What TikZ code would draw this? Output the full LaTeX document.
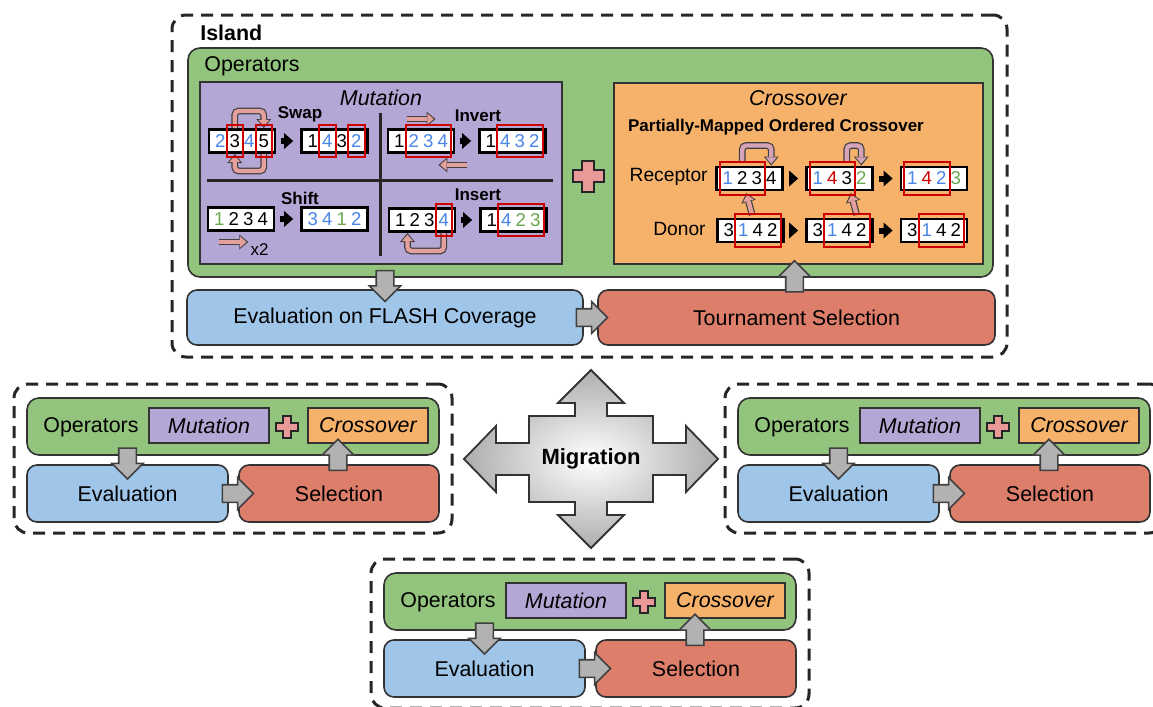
\documentclass[tikz,border=0pt]{standalone}
\usepackage{fontspec}
\setmainfont{Liberation Sans}
\usetikzlibrary{positioning,calc,fit,shapes.arrows,arrows.meta}

\definecolor{opgreen}{HTML}{93C47D}
\definecolor{mutpurple}{HTML}{B4A7D6}
\definecolor{crossorange}{HTML}{F6B26B}
\definecolor{evalblue}{HTML}{9FC5E8}
\definecolor{selred}{HTML}{DD7E6B}
\definecolor{pluspink}{HTML}{EA9999}
\definecolor{mutpink}{HTML}{E3A09C}
\definecolor{xpink}{HTML}{D6A3B8}
\definecolor{digblue}{HTML}{4A86E8}
\definecolor{diggreen}{HTML}{6AA84F}
\definecolor{digred}{HTML}{CC0000}

\newcommand{\blu}[1]{\textcolor{digblue}{#1}}
\newcommand{\grn}[1]{\textcolor{diggreen}{#1}}
\newcommand{\rd}[1]{\textcolor{digred}{#1}}
\newcommand{\lblfont}{\fontsize{10.7}{12}\selectfont}
\newcommand{\opfont}{\fontsize{8.5}{10}\selectfont\bfseries}
\newcommand{\digfont}{\fontsize{9.3}{10}\selectfont}

\tikzset{
  island/.style={draw=black!85, line width=1.5pt, dash pattern=on 6pt off 4pt, rounded corners=7pt},
  opsbox/.style={draw=black!80, fill=opgreen, line width=0.8pt, rounded corners=6pt},
  mutbox/.style={draw=black!80, fill=mutpurple, line width=0.8pt},
  crossbox/.style={draw=black!80, fill=crossorange, line width=0.8pt},
  evalbox/.style={draw=black!80, fill=evalblue, line width=0.8pt, rounded corners=5pt, font=\lblfont},
  selbox/.style={draw=black!80, fill=selred, line width=0.8pt, rounded corners=5pt, font=\lblfont},
  lbl/.style={inner sep=0pt},
  flowarrow/.style={single arrow, draw=black!75, fill=black!30, line width=0.8pt, minimum width=0pt,
    single arrow head extend=3.5pt, inner xsep=0pt, inner ysep=4pt, minimum height=15.5pt},
  permframe/.style={draw=black, fill=white, line width=1.4pt, minimum width=33pt, minimum height=11.5pt, inner sep=0pt},
  cell/.style={minimum width=7.25pt, minimum height=9pt, inner sep=0pt, outer sep=0pt, font=\digfont},
  hilite/.style={draw=digred, line width=1pt, inner xsep=0.5pt, inner ysep=3.6pt},
  steparrow/.style={line width=3pt, -{Triangle[width=8pt,length=4.5pt,line width=0pt]}, shorten <=2.5pt, shorten >=3.5pt},
  looparrow/.style={draw=black!75, line width=3.4pt, -{Triangle[width=7.5pt,length=4.5pt,line width=0pt]},
    postaction={draw=#1, line width=2.2pt, shorten >=0.9pt, -{Triangle[width=5.6pt,length=3.2pt,line width=0pt]}}},
  looparrow/.default=mutpink,
  pluspic/.pic={\draw[draw=black!85, fill=pluspink, line width=1pt] (-15.5,-6) -- (-6,-6) -- (-6,-15.5) -- (6,-15.5)
    -- (6,-6) -- (15.5,-6) -- (15.5,6) -- (6,6) -- (6,15.5) -- (-6,15.5) -- (-6,6) -- (-15.5,6) -- cycle;},
  migshape/.style={draw=black!80, line width=0.9pt, inner color=white, outer color=black!32}
}

% one permutation: name, centre, four digits
\newcommand{\permbox}[6]{%
  \node[permframe] (#1) at (#2) {};
  \node[cell] (#1-1) at ([xshift=-10.875pt]#1.center) {#3};
  \node[cell, right=0pt of #1-1] (#1-2) {#4};
  \node[cell, right=0pt of #1-2] (#1-3) {#5};
  \node[cell, right=0pt of #1-3] (#1-4) {#6};
}

% small island: prefix, top left corner of operators box
\newcommand{\smallisland}[3]{%
  \begin{scope}[shift={(#2,#3)}]
    \node[island, minimum width=219pt, minimum height=74.5pt] (#1island) at (206,60.5) {};
    \node[opsbox, minimum width=206pt, minimum height=28.5pt] (#1ops) at (206,28.5) {};
    \node[lbl, anchor=west, font=\lblfont] (#1opslbl) at (16,29) {Operators};
    \node[mutbox, minimum width=60pt, minimum height=17.5pt, font=\lblfont\itshape] (#1mut) at (182,27.5) {Mutation};
    \pic[scale=0.72] (#1plus) at (260,29) {pluspic};
    \node[crossbox, minimum width=60pt, minimum height=17.5pt, font=\lblfont\itshape] (#1cross) at (341,27.5) {Crossover};
    \node[evalbox, minimum width=100.5pt, minimum height=28.5pt] (#1eval) at (100.5,95.5) {Evaluation};
    \node[selbox, minimum width=100pt, minimum height=28.5pt] (#1sel) at (312,95.5) {Selection};
    \node[flowarrow, rotate=-90] (#1down) at ([yshift=2.5pt]#1eval.north) {};
    \node[flowarrow, rotate=90] (#1up) at ([xshift=-0.5pt,yshift=2.5pt]#1sel.north) {};
    \node[flowarrow] (#1right) at ($(#1eval.east)!0.5!(#1sel.west)$) {};
  \end{scope}
}

\begin{document}
\begin{tikzpicture}[x=0.5pt, y=-0.5pt]
  \useasboundingbox (0,0) rectangle (1153,707);
  \clip (0,0) rectangle (1153,707);

  % Island
  \node[island, minimum width=417.5pt, minimum height=171pt] (island) at (589.5,186) {};
  \node[lbl, anchor=west, font=\lblfont\bfseries] (islandlbl) at (200,33) {Island};
  \node[opsbox, minimum width=402.5pt, minimum height=114.5pt] (ops) at (590.5,162.5) {};
  \node[lbl, anchor=west, font=\lblfont] (opslbl) at (204,66) {Operators};

  % Mutation
  \node[mutbox, minimum width=181pt, minimum height=91pt] (mut) at (381,173) {};
  \node[lbl, font=\lblfont\itshape] (mutlbl) at (381,98) {Mutation};
  \draw[line width=1.5pt, black!85] (380,113) -- (380,256);
  \draw[line width=1.5pt, black!85] (207,180) -- (553,180);
  \node[lbl, font=\opfont] (swaplbl) at (300,114) {Swap};
  \node[lbl, font=\opfont] (invlbl) at (478,116) {Invert};
  \node[lbl, font=\opfont] (shiftlbl) at (300,198) {Shift};
  \node[lbl, font=\opfont] (inslbl) at (478,195) {Insert};

  \permbox{sL}{242,141}{\blu2}{3}{\blu4}{5}
  \permbox{sR}{334.5,141}{1}{\blu4}{3}{\blu2}
  \permbox{iL}{421,141}{1}{\blu2}{\blu3}{\blu4}
  \permbox{iR}{512.5,141}{1}{\blu4}{\blu3}{\blu2}
  \permbox{hL}{241,219}{\grn1}{2}{3}{4}
  \permbox{hR}{334.5,219}{\blu3}{\blu4}{\grn1}{\blu2}
  \permbox{nL}{422,220}{1}{2}{3}{\blu4}
  \permbox{nR}{513.5,220}{1}{\blu4}{\grn2}{\grn3}

  \draw[steparrow] (sL) -- (sR);
  \draw[steparrow] (iL) -- (iR);
  \draw[steparrow] (hL) -- (hR);
  \draw[steparrow] (nL) -- (nR);

  \draw[looparrow, rounded corners=2pt] ([yshift=2pt]sL-2.north) -- ++(0,-17) -| ([yshift=2pt]sL-4.north);
  \draw[looparrow, rounded corners=2pt] ([yshift=-2pt]sL-4.south) -- ++(0,17) -| ([yshift=-2pt]sL-2.south);
  \draw[looparrow] ([yshift=6.5pt]iL-2.north west) -- ([yshift=6.5pt]iL-3.north east);
  \draw[looparrow] ([xshift=6pt,yshift=-5.5pt]iL.south east) -- ([xshift=-8.5pt,yshift=-5.5pt]iL.south east);
  \draw[looparrow] ([yshift=-7pt]hL-1.south) -- ([yshift=-7pt]hL-3.south) coordinate (shend);
  \node[lbl, anchor=west, font=\fontsize{8.5}{10}\selectfont] (xtwo) at ([xshift=1pt,yshift=-4pt]shend) {x2};
  \draw[looparrow, rounded corners=2pt] ([yshift=-2pt]nL-4.south) -- ++(0,18) -| ([yshift=-2pt]nL-1.south east);

  \node[hilite, fit=(sL-2)] (hsL2) {};
  \node[hilite, fit=(sL-4)] (hsL4) {};
  \node[hilite, fit=(sR-2)] (hsR2) {};
  \node[hilite, fit=(sR-4)] (hsR4) {};
  \node[hilite, fit=(iL-2)(iL-4)] (hiL) {};
  \node[hilite, fit=(iR-2)(iR-4)] (hiR) {};
  \node[hilite, fit=(nL-4)] (hnL) {};
  \node[hilite, fit=(nR-2)(nR-4)] (hnR) {};

  \pic (mplus) at (588,176) {pluspic};

  % Crossover
  \node[crossbox, minimum width=184.5pt, minimum height=90.5pt] (cross) at (798.5,173.5) {};
  \node[lbl, font=\lblfont\itshape] (crosslbl) at (798,98) {Crossover};
  \node[lbl, font=\opfont] (pmxlbl) at (776,127) {Partially-Mapped Ordered Crossover};
  \node[lbl, anchor=east, font=\fontsize{9.6}{11}\selectfont] (reclbl) at (708,177) {Receptor};
  \node[lbl, anchor=east, font=\fontsize{9.6}{11}\selectfont] (donlbl) at (706,229) {Donor};

  \permbox{r1}{749.5,178.5}{\blu1}{2}{3}{4}
  \permbox{r2}{839.5,178.5}{\blu1}{\rd4}{3}{\grn2}
  \permbox{r3}{934,178.5}{\blu1}{\rd4}{\blu2}{\grn3}
  \permbox{d1}{750.5,230.5}{3}{\blu1}{4}{2}
  \permbox{d2}{839.5,230.5}{3}{\blu1}{4}{2}
  \permbox{d3}{934,230.5}{3}{\blu1}{4}{2}

  \draw[steparrow] (r1) -- (r2);
  \draw[steparrow] (r2) -- (r3);
  \draw[steparrow] (d1) -- (d2);
  \draw[steparrow] (d2) -- (d3);

  \draw[looparrow=xpink, rounded corners=2pt] ([yshift=4pt]r1-2.north) -- ++(0,-16) -| ([yshift=2pt]r1-4.north);
  \draw[looparrow=xpink, rounded corners=2pt] ([yshift=4pt]r2-3.north) -- ++(0,-16) -| ([yshift=2pt]r2-4.north);
  \draw[looparrow] ([xshift=4.5pt,yshift=3.25pt]d1-2.north) -- ([xshift=2pt,yshift=-2.75pt]r1-2.south);
  \draw[looparrow] ([xshift=5pt,yshift=3.25pt]d2-3.north) -- ([xshift=2pt,yshift=-2.75pt]r2-3.south);

  \node[hilite, fit=(r1-1)(r1-3)] (hr1) {};
  \node[hilite, fit=(r2-1)(r2-3)] (hr2) {};
  \node[hilite, fit=(r3-1)(r3-3)] (hr3) {};
  \node[hilite, fit=(d1-2)(d1-4)] (hd1) {};
  \node[hilite, fit=(d2-2)(d2-4)] (hd2) {};
  \node[hilite, fit=(d3-2)(d3-4)] (hd3) {};

  % Evaluation and selection
  \node[evalbox, minimum width=198pt, minimum height=27.5pt] (meval) at (385,317.5) {Evaluation on FLASH Coverage};
  \node[selbox, minimum width=198.5pt, minimum height=27.5pt] (mtour) at (796.5,317.5) {Tournament Selection};
  \node[flowarrow, rotate=-90] (mdown) at ([yshift=3.75pt]meval.north) {};
  \node[flowarrow, rotate=90] (mup) at ([xshift=-1pt,yshift=4.25pt]mtour.north) {};
  \node[flowarrow] (mright) at ([xshift=-1.5pt]$(meval.east)!0.5!(mtour.west)$) {};

  % Other islands
  \smallisland{l}{27}{398}
  \smallisland{r}{738}{398}
  \smallisland{b}{384}{573}

  % Migration
  \coordinate (mc) at (591,459);
  \begin{scope}[shift={(mc)}]
    \draw[migshape] (0,-89) -- (33,-56) -- (16,-56) -- (16,-43) -- (62,-43) -- (62,-16) -- (95,-16) -- (95,-33)
      -- (127,0) -- (95,33) -- (95,16) -- (62,16) -- (62,43) -- (16,43) -- (16,56) -- (33,56) -- (0,89)
      -- (-33,56) -- (-16,56) -- (-16,43) -- (-62,43) -- (-62,16) -- (-95,16) -- (-95,33) -- (-127,0)
      -- (-95,-33) -- (-95,-16) -- (-62,-16) -- (-62,-43) -- (-16,-43) -- (-16,-56) -- (-33,-56) -- cycle;
  \end{scope}
  \node[lbl, font=\fontsize{11}{13}\selectfont\bfseries] (migr) at (mc) {Migration};
\end{tikzpicture}
\end{document}
